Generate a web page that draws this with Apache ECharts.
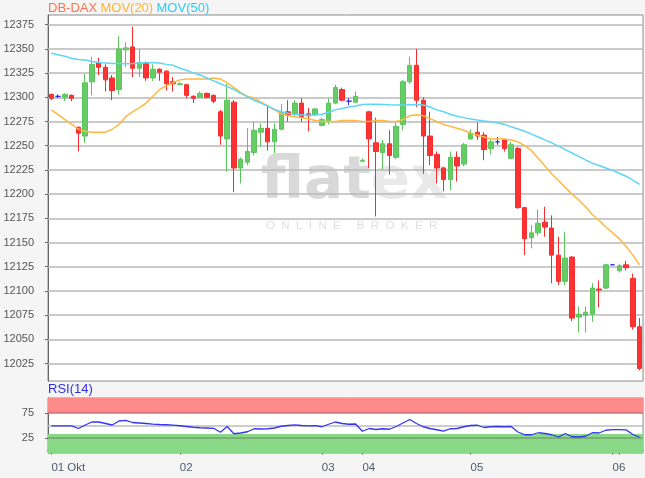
<!DOCTYPE html>
<html><head><meta charset="utf-8">
<script src="https://cdn.jsdelivr.net/npm/echarts@6.0.0/dist/echarts.min.js"></script>
<style>html,body{margin:0;padding:0;background:#f5f5f5}#c{width:645px;height:478px}</style>
</head><body><div id="c"></div>
<script>
// Candles (open, close, low, high)
const opens  = [12303,12301,12300,12302,12269,12260,12316,12336,12331,12320,12308,12349,12352,12330,12335,12320,12329,12327,12316,12313,
                12313,12301,12300,12304,12302,12285,12257,12295,12227,12233,12243,12264,12268,12254,12267,12285,12283,12294,12283,12282,
                12271,12276,12294,12308,12296,12295,12234,12285,12253,12243,12252,12238,12272,12316,12333,12297,12260,12241,12227,12215,
                12238,12231,12257,12264,12261,12247,12254,12256,12237,12247,12186,12155,12160,12171,12165,12137,12110,12135,12073,12075,
                12076,12102,12103,12127,12121,12127,12113,12063];
const closes = [12299,12301,12303,12299,12263,12315,12334,12331,12318,12307,12350,12351,12330,12336,12320,12329,12326,12314,12314,12314,
                12302,12299,12304,12300,12296,12260,12297,12227,12236,12244,12266,12268,12254,12267,12284,12282,12294,12280,12281,12288,
                12277,12294,12310,12297,12296,12301,12235,12257,12244,12252,12240,12270,12316,12333,12297,12260,12240,12227,12215,12238,
                12229,12251,12263,12260,12246,12254,12254,12247,12251,12186,12154,12160,12170,12166,12137,12110,12134,12072,12076,12078,
                12103,12101,12127,12127,12126,12124,12063,12020];
const lows   = [12297,12299,12296,12296,12244,12253,12302,12323,12306,12297,12303,12331,12321,12321,12317,12317,12317,12307,12306,12313,
                12299,12294,12299,12299,12294,12251,12223,12202,12211,12230,12240,12249,12245,12242,12266,12275,12281,12275,12265,12281,
                12270,12272,12293,12296,12292,12294,12233,12227,12177,12225,12220,12236,12266,12314,12290,12221,12230,12211,12203,12204,
                12213,12229,12256,12256,12235,12241,12251,12244,12236,12185,12137,12144,12157,12156,12108,12106,12106,12069,12057,12057,
                12068,12083,12102,12127,12119,12121,12060,12018];
const highs  = [12304,12303,12304,12303,12270,12324,12342,12341,12334,12323,12363,12357,12373,12350,12337,12334,12330,12328,12321,12316,
                12314,12302,12306,12305,12303,12287,12314,12297,12238,12268,12275,12273,12290,12273,12293,12297,12297,12299,12289,12289,
                12279,12299,12313,12310,12299,12306,12237,12286,12279,12256,12266,12274,12318,12342,12350,12300,12285,12244,12228,12244,
                12244,12253,12267,12274,12264,12257,12259,12257,12254,12249,12187,12168,12184,12187,12178,12156,12161,12136,12084,12084,
                12108,12111,12128,12128,12128,12131,12118,12072];
// Moving averages as drawn
const ma20 = [12287,12282,12277,12272,12267,12265,12264,12264,12264,12267,12272,12280,12285,12289,12294,12301,12308,12312,12315,12318,
              12319,12319,12319,12319,12320,12319,12315,12310,12305,12301,12299,12295,12291,12287,12283,12281,12280,12279,12278,12276,
              12275,12275,12275,12276,12276,12276,12275,12275,12276,12276,12275,12275,12277,12281,12282,12281,12278,12275,12272,12270,
              12268,12266,12263,12261,12259,12257,12257,12257,12256,12254,12250,12245,12237,12229,12221,12214,12207,12200,12194,12187,
              12179,12173,12166,12160,12154,12146,12137,12127];
const ma50 = [12345.5,12344,12342.5,12340,12339,12338.5,12337,12336,12335.5,12335,12335,12334.6,12335,12335.5,12335.6,12335.6,12335.5,12334,12333,12330,
              12328,12325,12323,12320,12317,12314,12311,12308,12304,12300.5,12297,12294,12291,12287.5,12285,12283.5,12282.3,12281.8,12281.6,12281.6,
              12282.5,12284.5,12287,12288.5,12290,12291,12292.5,12292.7,12292.7,12292.5,12292.2,12292,12292,12292.3,12292.5,12292,12290,12287,12285,12282.5,
              12280.5,12279,12277.5,12276.5,12275.6,12274.8,12273.5,12272,12269.5,12267.3,12265,12262,12259,12256,12253,12249.5,12246,12242.5,12239,12235.3,
              12232,12229.5,12227,12224.5,12221.5,12218.5,12214.5,12210];
const rsi = [49.4,49.4,49.4,49.4,44,51,57,57,54,51,59,60.4,56,55,54,52.6,52,51.5,50.7,49.5,
             48,46.5,45.5,45,44.4,36.5,48,33.5,35,37.5,43.5,43,43.5,45,48.5,50,51.3,50,49.4,49.8,
             47.5,52.5,57,54,52.5,53,38.5,44,42,43.5,42.5,48,55,62,54,47.5,44,41.5,38.8,43.5,
             44,47.5,50,50.5,46,47.5,48,47.5,48,37,31.5,31.5,35.5,34,31.5,27,34,27.5,27,28.5,
             35.5,35,40.5,41.6,41.6,41.3,32,26.5];
const priceTicks = [12025,12050,12075,12100,12125,12150,12175,12200,12225,12250,12275,12300,12325,12350,12375];
const rsiLabels = [25,75];
const rsiLines = [25,50,75];
const dayTickIndex = [0,19,40,46,62,83];
const dayTickLabels = ['01 Okt','02','03','04','05','06'];
const extraTickIndex = [84];

const categories = opens.map((_, i) => String(i));
const candles = opens.map((o, i) => [o, closes[i], lows[i], highs[i]]);
const labelMap = new Map(dayTickIndex.map((k, j) => [k, dayTickLabels[j]]));
const tickSet = new Set(dayTickIndex.concat(extraTickIndex));

const chart = echarts.init(document.getElementById('c'), null, {renderer: 'canvas'});
const FONT = '"Liberation Sans", Arial, sans-serif';
chart.setOption({
  backgroundColor: '#f5f5f5',
  animation: false,
  textStyle: {fontFamily: FONT},
  grid: [
    {left: 48, right: 2, top: 15, height: 366, show: true, backgroundColor: '#fff', borderColor: '#8c8c8c', borderWidth: 1},
    {left: 48, right: 2, top: 398, height: 55, show: true, backgroundColor: '#fff', borderColor: '#8c8c8c', borderWidth: 1}
  ],
  graphic: [
    {type: 'text', left: 48, top: 2, z: 10, style: {text: '{a|DB-DAX} {b|MOV(20)} {c|MOV(50)}', rich: {
      a: {fill: '#ff7350', fontSize: 13, fontFamily: FONT},
      b: {fill: '#ffb333', fontSize: 13, fontFamily: FONT},
      c: {fill: '#33c7f5', fontSize: 13, fontFamily: FONT}}}},
    {type: 'text', left: 48, top: 383, z: 10, style: {text: 'RSI(14)', fill: '#2f2fe6', fontSize: 13, fontFamily: FONT}},
    {type: 'text', x: 261, y: 154, z: 0.5, silent: true, style: {text: '{a|flat}{b|ex}', rich: {
      a: {fill: '#d9d9d9', fontSize: 58, fontWeight: 'bold', fontFamily: '"DejaVu Sans", sans-serif'},
      b: {fill: '#e9e9e9', fontSize: 58, fontWeight: 'bold', fontFamily: '"DejaVu Sans", sans-serif'}}}},
    {type: 'text', x: 266, y: 220, z: 0.5, silent: true, style: {text: 'O  N  L  I  N  E     B  R  O  K  E  R', fill: '#e0e0e0', fontSize: 11.5, fontFamily: FONT}}
  ],
  xAxis: [
    {type: 'category', gridIndex: 0, data: categories, boundaryGap: true,
     axisLine: {show: false}, axisTick: {show: false}, axisLabel: {show: false}, splitLine: {show: false}},
    {type: 'category', gridIndex: 1, data: categories, boundaryGap: true,
     axisLine: {show: true, lineStyle: {color: '#666'}},
     axisTick: {show: true, alignWithLabel: true, length: 4, interval: (i) => tickSet.has(i), lineStyle: {color: '#666'}},
     axisLabel: {interval: (i) => labelMap.has(i), formatter: (v, i) => labelMap.get(i) || '', align: 'left',
                 color: '#4b5c6e', fontSize: 11.5, margin: 9, fontFamily: FONT},
     splitLine: {show: false}}
  ],
  yAxis: [
    {type: 'value', gridIndex: 0, min: 12007, max: 12385, scale: true,
     axisLine: {show: true, lineStyle: {color: '#666'}},
     axisTick: {show: true, customValues: priceTicks, length: 3, lineStyle: {color: '#666'}},
     axisLabel: {customValues: priceTicks, formatter: (v) => String(Math.round(v)), color: '#555', fontSize: 11, margin: 14, fontFamily: FONT},
     splitLine: {show: false}},
    {type: 'value', gridIndex: 1, min: -5, max: 105,
     axisLine: {show: true, lineStyle: {color: '#666'}},
     axisTick: {show: true, customValues: rsiLabels, length: 3, lineStyle: {color: '#666'}},
     axisLabel: {customValues: rsiLabels, formatter: (v) => String(Math.round(v)), color: '#555', fontSize: 11, margin: 14, fontFamily: FONT},
     splitLine: {show: false}}
  ],
  series: [
    {type: 'candlestick', xAxisIndex: 0, yAxisIndex: 0, data: candles, barWidth: 5, z: 3,
     itemStyle: {color: '#66cc66', color0: '#ff3333', borderColor: '#5cc45c', borderColor0: '#f52d2d',
                 borderColorDoji: '#3030e8', borderWidth: 1},
     markLine: {silent: true, z: 1, symbol: 'none', label: {show: false}, animation: false,
                lineStyle: {color: '#b9b9b9', width: 1.6, type: 'solid'},
                data: priceTicks.map(v => ({yAxis: v}))}},
    {type: 'line', name: 'MOV(20)', xAxisIndex: 0, yAxisIndex: 0, data: ma20, symbol: 'none', z: 4,
     lineStyle: {color: '#ffb840', width: 1.5}},
    {type: 'line', name: 'MOV(50)', xAxisIndex: 0, yAxisIndex: 0, data: ma50, symbol: 'none', z: 4,
     lineStyle: {color: '#5fd6f5', width: 1.5}},
    {type: 'line', name: 'RSI(14)', xAxisIndex: 1, yAxisIndex: 1, data: rsi, symbol: 'none', z: 4,
     lineStyle: {color: '#3535f0', width: 1.3},
     markArea: {silent: true, z: 1, data: [
       [{yAxis: 74, itemStyle: {color: '#ff8a8a'}}, {yAxis: 105}],
       [{yAxis: -5, itemStyle: {color: '#88d888'}}, {yAxis: 33}]]},
     markLine: {silent: true, z: 2, symbol: 'none', label: {show: false},
                data: rsiLines.map(v => ({yAxis: v, lineStyle: {color: v === 50 ? '#bdbdbd' : 'rgba(90,60,60,0.35)', width: 1.5, type: 'solid'}}))}}
  ]
});
</script></body></html>
